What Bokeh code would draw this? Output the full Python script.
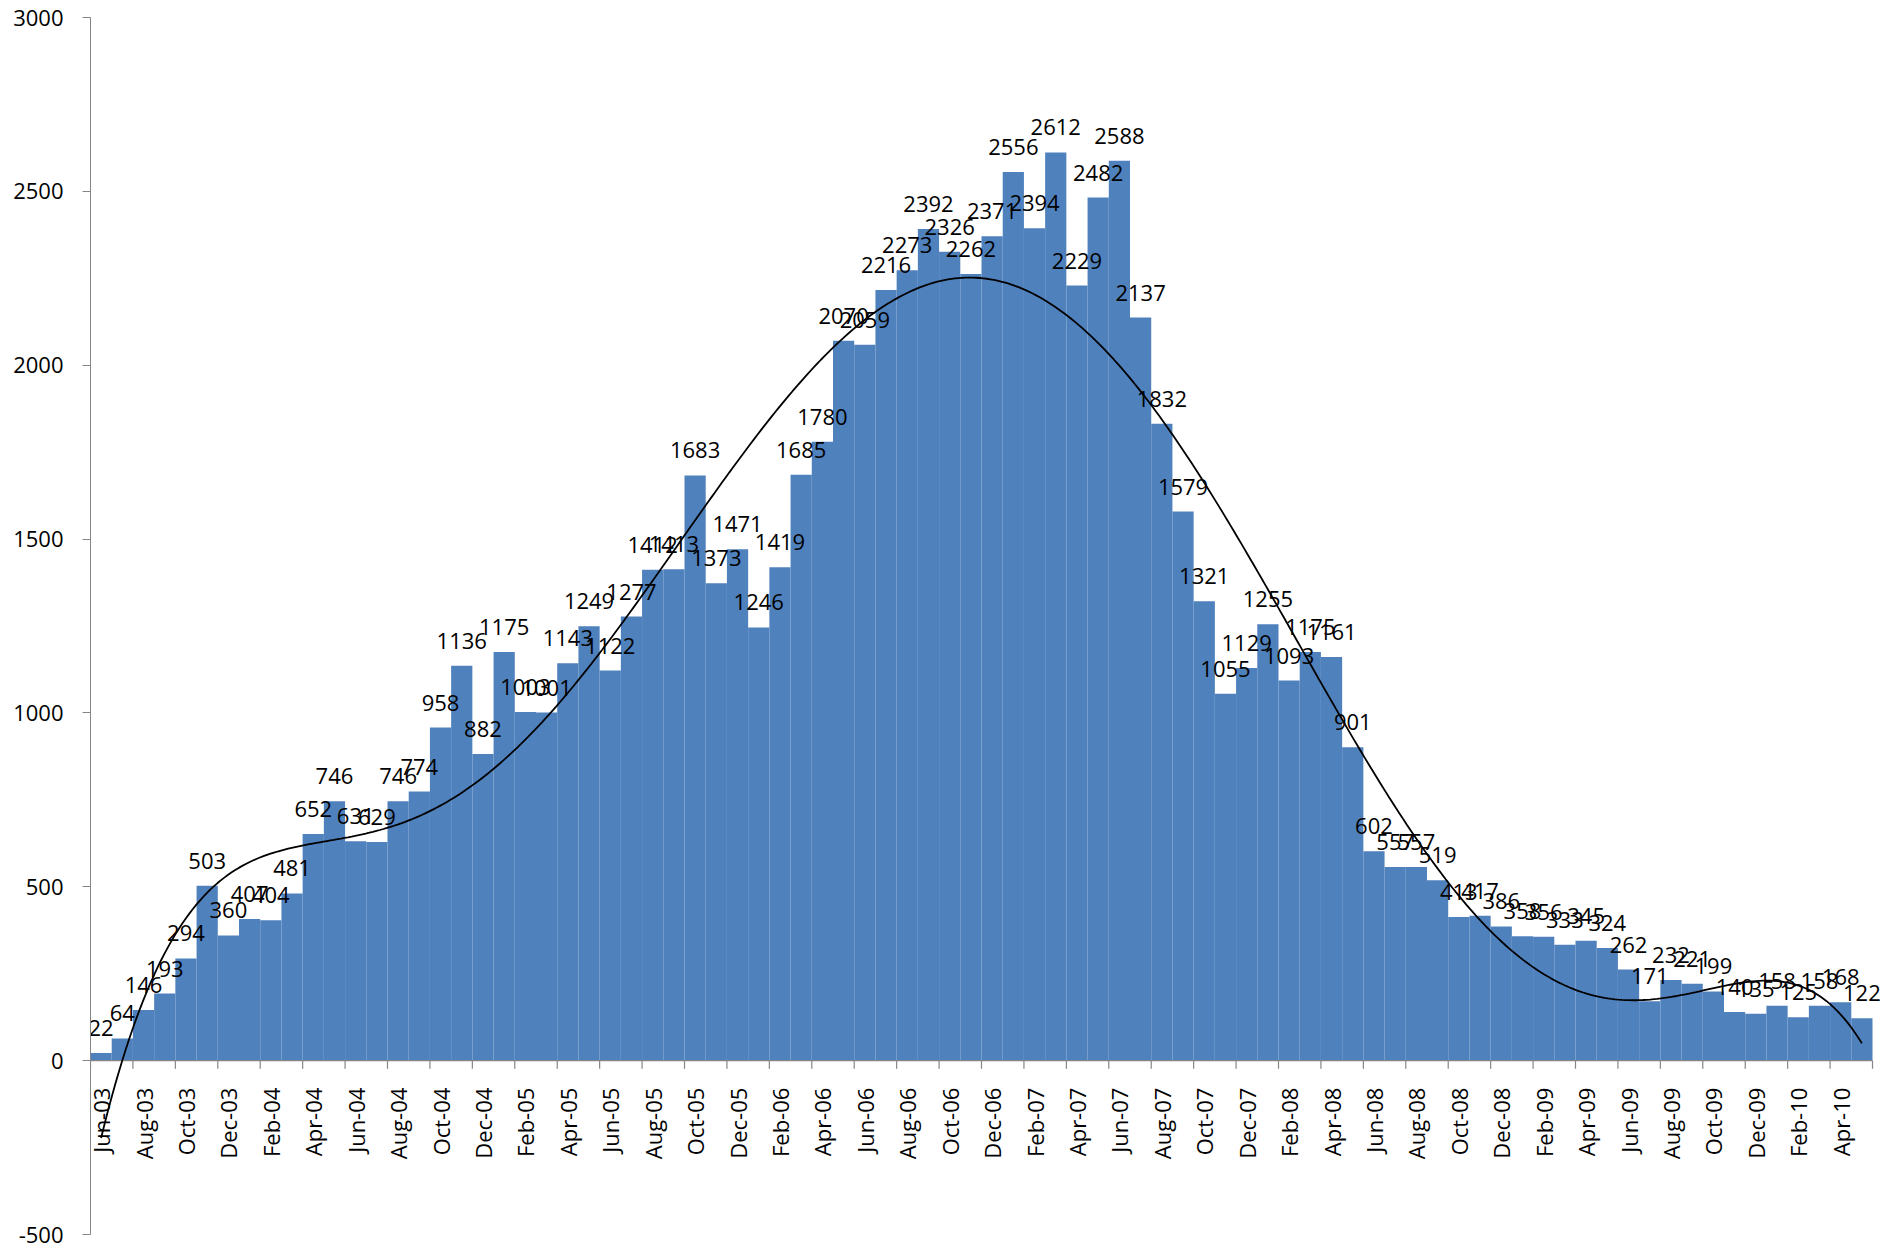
import numpy as np
import pandas as pd
from bokeh.plotting import figure
from bokeh.models import Range1d, FixedTicker
from bokeh.core.properties import value
from bokeh.embed import file_html
from bokeh.resources import INLINE

# ---- data ----
months = list(pd.date_range("2003-06-01", periods=84, freq="MS").strftime("%b-%y"))
counts = [
    22, 64, 146, 193, 294, 503, 360,                                   # 2003 Jun-Dec
    407, 404, 481, 652, 746, 631, 629, 746, 774, 958, 1136, 882,        # 2004
    1175, 1003, 1001, 1143, 1249, 1122, 1277, 1412, 1413, 1683, 1373, 1471,  # 2005
    1246, 1419, 1685, 1780, 2070, 2059, 2216, 2273, 2392, 2326, 2262, 2371,  # 2006
    2556, 2394, 2612, 2229, 2482, 2588, 2137, 1832, 1579, 1321, 1055, 1129,  # 2007
    1255, 1093, 1175, 1161, 901, 602, 557, 557, 519, 413, 417, 386,     # 2008
    358, 356, 333, 345, 324, 262, 171, 232, 221, 199, 140, 135,         # 2009
    158, 125, 158, 168, 122,                                            # 2010 Jan-May
]
tick_labels = months[::2]
y_ticks = [-500, 0, 500, 1000, 1500, 2000, 2500, 3000]
trend_degree = 6

# ---- style ----
FONT = "Open Sans"
FS = "22px"
BAR = "#4F81BD"
AXIS = "#868686"
n = len(counts)
BAR_PX = 1782 / n          # pixel width of one monthly bar
PAD = 0.6                  # extra room (in bars) at the right for the last label
FRAME_W = int(round(BAR_PX * (n + PAD)))
FRAME_H = 1217
Y_MIN, Y_MAX = -500, 3000

idx = np.arange(n)
centers = idx + 0.5

p = figure(frame_width=FRAME_W, frame_height=FRAME_H,
           x_range=Range1d(0, FRAME_W / BAR_PX), y_range=Range1d(Y_MIN, Y_MAX),
           x_axis_location=None,
           output_backend="svg", toolbar_location=None,
           min_border_left=90, min_border_right=0,
           min_border_top=17, min_border_bottom=13)
p.grid.grid_line_color = None
p.outline_line_color = None
p.background_fill_color = "white"

# y axis
ya = p.yaxis[0]
ya.ticker = FixedTicker(ticks=y_ticks)
ya.major_label_overrides = {t: str(t) for t in y_ticks}
ya.minor_tick_line_color = None
ya.major_tick_in = 0
ya.major_tick_out = 8
ya.axis_line_color = AXIS
ya.major_tick_line_color = AXIS
ya.major_label_text_font = FONT
ya.major_label_text_font_size = FS
ya.major_label_text_color = "black"
ya.major_label_standoff = 19

# bars
p.quad(left=idx, right=idx + 1, bottom=0, top=counts,
       fill_color=BAR, line_color=None)

# x axis at y=0 (inside the plot area, as in the original)
p.segment(x0=[0], y0=[0], x1=[n], y1=[0], line_color=AXIS, line_width=1.2)
bounds = np.arange(0, n + 1, 2)
tick_len = 8 * (Y_MAX - Y_MIN) / FRAME_H
p.segment(x0=bounds, y0=0, x1=bounds, y1=-tick_len, line_color=AXIS, line_width=1.2)
p.text(x=centers[::2], y=0, text=tick_labels, angle=np.pi / 2,
       text_align="right", text_baseline="middle", y_offset=27,
       text_font=value(FONT), text_font_size=FS, text_color="black")

# polynomial trendline
poly = np.polynomial.Polynomial.fit(centers, counts, trend_degree)
xf = np.linspace(centers[0], centers[-1], 500)
p.line(xf, poly(xf), line_color="black", line_width=1.8)

# data labels
p.text(x=centers, y=counts, text=[str(v) for v in counts],
       text_align="center", text_baseline="alphabetic", y_offset=-25,
       text_font=value(FONT), text_font_size=FS, text_color="black")

open("out.html", "w").write(file_html(p, INLINE))
